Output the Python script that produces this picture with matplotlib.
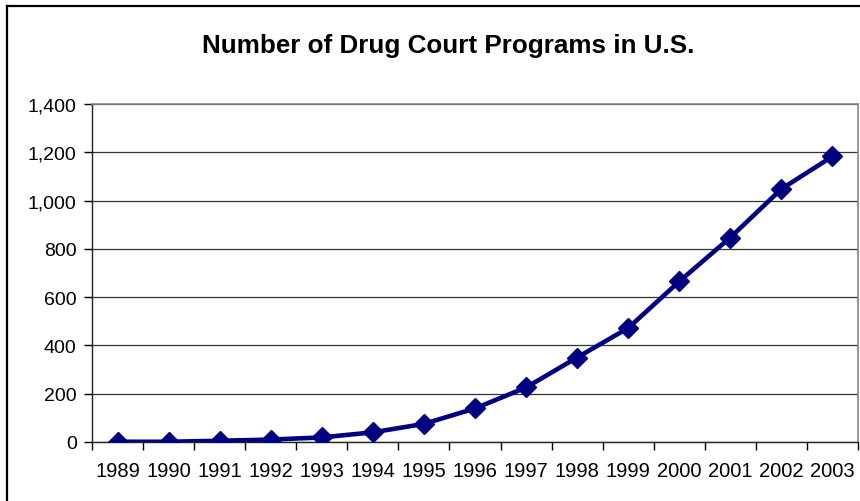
import matplotlib.pyplot as plt
from matplotlib.lines import Line2D
from matplotlib.ticker import FuncFormatter, MultipleLocator

plt.rcParams['font.family'] = ['Liberation Sans', 'DejaVu Sans']

years = ['1989', '1990', '1991', '1992', '1993', '1994', '1995', '1996',
         '1997', '1998', '1999', '2000', '2001', '2002', '2003']
programs = [1, 1, 5, 10, 19, 40, 75, 139, 226, 350, 472, 665, 847, 1048, 1183]

W, H = 860, 502
fig = plt.figure(figsize=(W / 100, H / 100), dpi=100)
ax = fig.add_axes([92 / W, 1 - 443 / H, (858 - 92) / W, (443 - 105) / H])

x = list(range(len(years)))
ax.plot(x, programs, color='#000080', lw=3.3, marker='D', markersize=10,
        markerfacecolor='#000080', markeredgecolor='#000080', zorder=3)

ax.set_xlim(-0.5, len(years) - 0.5)
ax.set_ylim(0, 1400)
ax.yaxis.set_major_locator(MultipleLocator(200))
ax.yaxis.set_major_formatter(FuncFormatter(lambda v, p: f'{int(v):,}'))
ax.grid(axis='y', color='#333333', lw=0.9)
ax.set_axisbelow(True)

ax.set_xticks(x)
ax.set_xticklabels(years)
ax.set_xticks([i - 0.5 for i in range(len(years) + 1)], minor=True)
ax.tick_params(axis='x', which='major', length=0, pad=14, labelsize=14.5)
ax.tick_params(axis='x', which='minor', length=6, width=1, direction='out')
ax.tick_params(axis='y', length=6, width=1, direction='out', pad=5, labelsize=14)

for s in ['left', 'bottom']:
    ax.spines[s].set_color('#222222')
    ax.spines[s].set_linewidth(1)
for s in ['right', 'top']:
    ax.spines[s].set_color('#888888')
    ax.spines[s].set_linewidth(1.2)

fig.text(448 / W, 1 - 53 / H, 'Number of Drug Court Programs in U.S.',
         ha='center', va='baseline', fontsize=18.7, fontweight='bold')

# outer chart border (left and top edges visible)
fig.add_artist(Line2D([7 / W, 7 / W], [0, 1 - 7 / H], transform=fig.transFigure,
                      color='black', lw=1.6))
fig.add_artist(Line2D([7 / W, 1], [1 - 7 / H, 1 - 7 / H], transform=fig.transFigure,
                      color='black', lw=1.6))

fig.savefig('out.png', dpi=100)
